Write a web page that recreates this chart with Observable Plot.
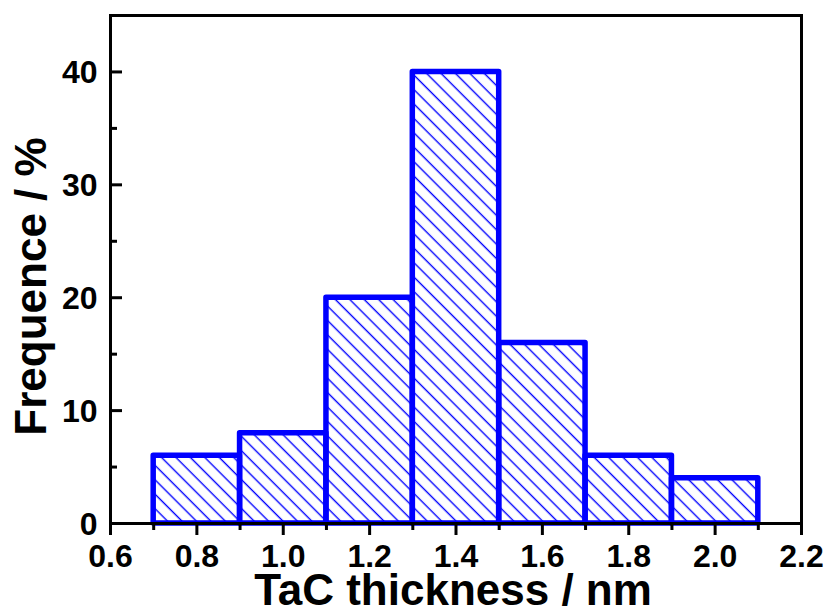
<!DOCTYPE html>
<html>
<head>
<meta charset="utf-8">
<script src="https://cdn.jsdelivr.net/npm/d3@7"></script>
<script src="https://cdn.jsdelivr.net/npm/@observablehq/plot@0.6"></script>
<style>
  html, body { margin: 0; padding: 0; background: white; }
</style>
</head>
<body>
<div id="chart"></div>
<script>
// Histogram bins (TaC thickness, nm) and frequencies (%)
const binStart = [0.7, 0.9, 1.1, 1.3, 1.5, 1.7, 1.9];
const binEnd   = [0.9, 1.1, 1.3, 1.5, 1.7, 1.9, 2.1];
const frequence = [6, 8, 20, 40, 16, 6, 4];

// Axis ticks
const xMajorTicks = [0.6, 0.8, 1.0, 1.2, 1.4, 1.6, 1.8, 2.0, 2.2];
const xMinorTicks = [0.7, 0.9, 1.1, 1.3, 1.5, 1.7, 1.9, 2.1];
const yMajorTicks = [0, 10, 20, 30, 40];
const yMinorTicks = [5, 15, 25, 35];

const xLabel = "TaC thickness / nm";
const yLabel = "Frequence / %";

const bins = binStart.map((s, i) => ({x1: s, x2: binEnd[i], y: frequence[i]}));

const FONT = "Arial, 'Liberation Sans', Helvetica, sans-serif";
const BLUE = "#0000ff";

const hatchDefs = () => {
  const defs = d3.create("svg:defs");
  const p = defs.append("pattern")
    .attr("id", "hatch")
    .attr("patternUnits", "userSpaceOnUse")
    .attr("width", 10.2)
    .attr("height", 10.2)
    .attr("patternTransform", "rotate(-45)");
  p.append("line")
    .attr("x1", 5).attr("y1", -1).attr("x2", 5).attr("y2", 11.2)
    .attr("stroke", BLUE).attr("stroke-width", 1.4);
  return defs.node();
};

const tickStyle = {label: null, strokeWidth: 3, stroke: "black", tickFormat: () => ""};
const textStyle = {fontWeight: "bold", fontFamily: FONT, fill: "black"};

const chart = Plot.plot({
  width: 828,
  height: 609,
  marginLeft: 110,
  marginRight: 27,
  marginTop: 15,
  marginBottom: 86,
  style: {background: "white", fontFamily: FONT},
  x: {domain: [0.6, 2.2], label: null},
  y: {domain: [0, 45], label: null},
  marks: [
    hatchDefs,
    Plot.rectY(bins, {
      x1: "x1", x2: "x2", y: "y", inset: 0,
      fill: "url(#hatch)", stroke: BLUE, strokeWidth: 5.5, strokeLinejoin: "round"
    }),
    Plot.frame({stroke: "black", strokeWidth: 3}),
    // x axis: outward ticks
    Plot.axisX({...tickStyle, ticks: xMajorTicks, tickSize: 12}),
    Plot.axisX({...tickStyle, ticks: xMinorTicks, tickSize: 7}),
    Plot.text(xMajorTicks, {...textStyle, x: d => d, text: d3.format(".1f"), frameAnchor: "bottom",
      lineAnchor: "top", textAnchor: "middle", dy: 21, fontSize: 32}),
    // y axis: inward ticks
    Plot.axisY({...tickStyle, ticks: yMajorTicks, tickSize: 12, dx: 12}),
    Plot.axisY({...tickStyle, ticks: yMinorTicks, tickSize: 7, dx: 7}),
    Plot.text(yMajorTicks, {...textStyle, y: d => d, text: d3.format("d"), frameAnchor: "left",
      lineAnchor: "middle", textAnchor: "end", dx: -13, dy: 1, fontSize: 32}),
    // axis titles
    Plot.text([xLabel], {...textStyle, frameAnchor: "bottom", text: d => d, lineAnchor: "bottom", textAnchor: "middle",
      dx: -3, dy: 81, fontSize: 44}),
    Plot.text([yLabel], {...textStyle, frameAnchor: "left", text: d => d, rotate: -90, lineAnchor: "bottom", textAnchor: "middle",
      dx: -65, dy: 17, fontSize: 44})
  ]
});

document.getElementById("chart").appendChild(chart);
</script>
</body>
</html>
